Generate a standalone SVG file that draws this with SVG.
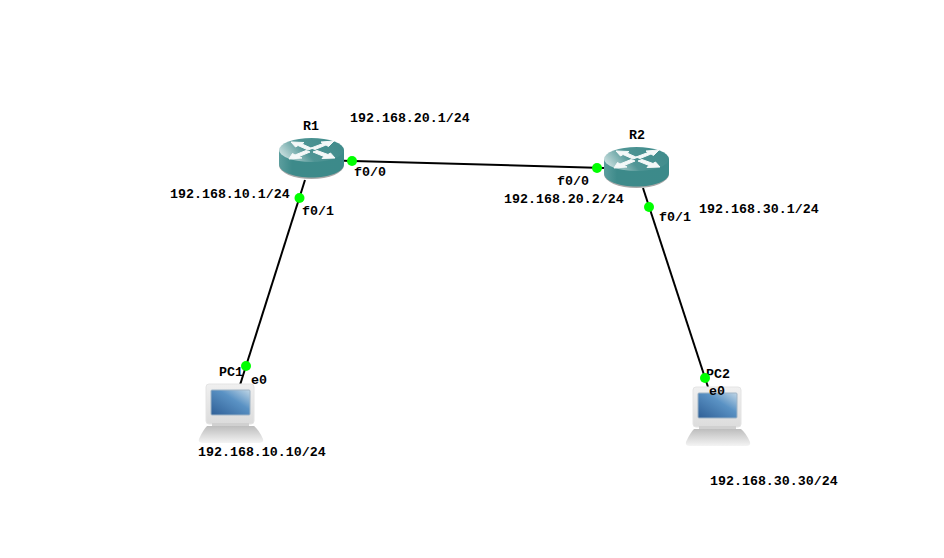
<svg xmlns="http://www.w3.org/2000/svg" width="944" height="558" viewBox="0 0 944 558">
<style>
text{font-family:"Liberation Mono",monospace;font-weight:bold;font-size:13.3px;fill:#000}
.link{stroke:#000;stroke-width:2;fill:none}
.dot{fill:#00ff00}
.arrow{fill:#f4f8f8;stroke:#f4f8f8;stroke-width:1}
</style>
<defs>
<linearGradient id="rtop" x1="0" y1="0.6" x2="1" y2="0.3"><stop offset="0" stop-color="#c8dede"/><stop offset="0.4" stop-color="#4f9595"/><stop offset="1" stop-color="#3f8b8b"/></linearGradient>
<linearGradient id="rside" x1="0" y1="0" x2="1" y2="0"><stop offset="0" stop-color="#5c9e9e"/><stop offset="0.2" stop-color="#3d8a8a"/><stop offset="1" stop-color="#3c8a8a"/></linearGradient>
<linearGradient id="screen" x1="0" y1="1" x2="1" y2="0"><stop offset="0" stop-color="#2f5f96"/><stop offset="0.6" stop-color="#5a92c4"/><stop offset="1" stop-color="#c0d6e6"/></linearGradient>
<linearGradient id="mon" x1="0" y1="0" x2="0" y2="1"><stop offset="0" stop-color="#f0f0f0"/><stop offset="1" stop-color="#dcdcdc"/></linearGradient>
<linearGradient id="base" x1="0" y1="0" x2="0" y2="1"><stop offset="0" stop-color="#bdbdbd"/><stop offset="1" stop-color="#f4f4f4"/></linearGradient>
<g id="router">
<ellipse cx="32.5" cy="27" rx="32.5" ry="14" fill="#a8a8a8"/>
<path d="M0 12V26C0 34 14.500 39.500 32.500 39.500S65 34 65 26V12Z" fill="url(#rside)"/>
<ellipse cx="32.500" cy="12" rx="32.500" ry="12" fill="url(#rtop)"/>
<path class="arrow" d="M12 4L25 4.500L23 6L33 10.500L29 12L19 7.500L16.500 9Z"/>
<path class="arrow" d="M55 3L42 4L44 5.500L32 10L36 11.500L47 7L49.500 8.500Z"/>
<path class="arrow" d="M10 21L13.500 15.500L16 17L27 12.500L31 14L20 18.500L23 20Z"/>
<path class="arrow" d="M56 20L43 20.500L45 18.500L34 14L38 12.500L49 16.500L51.500 15Z"/>
</g>
<g id="laptop">
<rect x="7" y="0" width="48" height="40" rx="3" fill="url(#mon)" stroke="#e4e4e4"/>
<rect x="12" y="6" width="39" height="25" rx="1" fill="url(#screen)" stroke="#9fb4c6"/>
<rect x="13" y="39" width="37" height="4" fill="#d0d0d0"/>
<path d="M8 42H55Q60 46 64 55Q65 59 60 59H4Q-1 59 0 55Q4 46 8 42Z" fill="url(#base)"/>
</g>
</defs>
<rect width="944" height="558" fill="#fff"/>
<g id="connectors">
<line class="link" x1="344" y1="160.700" x2="604" y2="168"/>
<line class="link" x1="305" y1="180" x2="240" y2="385"/>
<line class="link" x1="643" y1="188" x2="708" y2="387"/>
</g>
<g id="R1"><use href="#router" x="279" y="138"/><text x="303" y="130">R1</text></g>
<g id="R2"><use href="#router" x="604" y="147"/><text x="629" y="139">R2</text></g>
<g id="PC1"><use href="#laptop" x="199" y="384"/><text x="219" y="376">PC1</text></g>
<g id="PC2"><use href="#laptop" x="686" y="387"/><text x="706" y="378">PC2</text></g>
<g id="ports">
<circle class="dot" cx="352" cy="161" r="5"/>
<circle class="dot" cx="597" cy="168" r="5"/>
<circle class="dot" cx="299.500" cy="198" r="5"/>
<circle class="dot" cx="246" cy="366" r="5"/>
<circle class="dot" cx="649" cy="207" r="5"/>
<circle class="dot" cx="705" cy="378" r="5"/>
<text x="354" y="176">f0/0</text>
<text x="557" y="185">f0/0</text>
<text x="302" y="215">f0/1</text>
<text x="659" y="221">f0/1</text>
<text x="251" y="384">e0</text>
<text x="709" y="395">e0</text>
</g>
<g id="addresses">
<text x="350" y="122">192.168.20.1/24</text>
<text x="170" y="198">192.168.10.1/24</text>
<text x="504" y="203">192.168.20.2/24</text>
<text x="699" y="213">192.168.30.1/24</text>
<text x="198" y="456">192.168.10.10/24</text>
<text x="710" y="485">192.168.30.30/24</text>
</g>
</svg>
